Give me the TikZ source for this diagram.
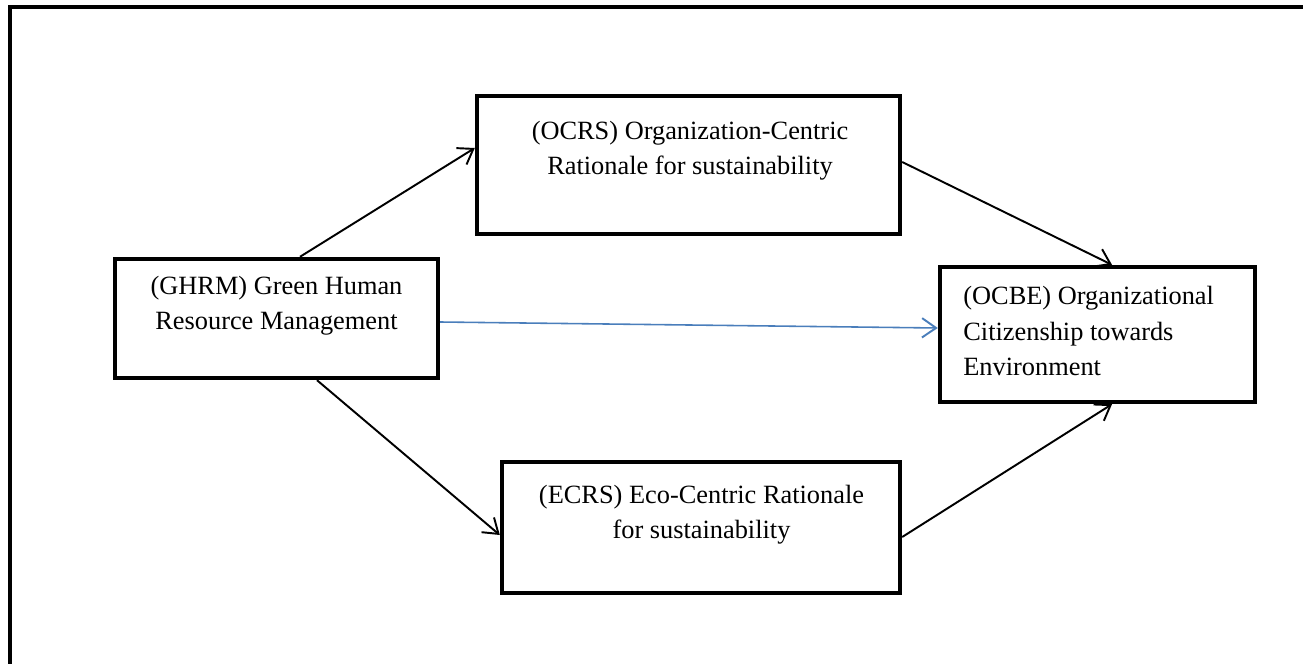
\documentclass[tikz,border=0pt]{standalone}
\usepackage{fontspec}
\setmainfont{Liberation Serif}
\usepackage{tikz}
\usetikzlibrary{arrows.meta}
\definecolor{linkblue}{RGB}{74,126,187}
\tikzstyle{block} = [rectangle, draw, line width=2.5pt, inner sep=0pt]
\tikzstyle{caption} = [align=center, inner sep=0pt, font=\fontsize{15}{20}\selectfont]
\tikzstyle{link} = [line width=1.1pt, -{Straight Barb[length=8pt, width=11pt, line width=1.1pt]}]

\begin{document}
\begin{tikzpicture}
        \useasboundingbox (0, 0) rectangle (26.06, -13.28);
        \draw[line width=2.3pt] (0.2, -13.28) |- (26.06, -0.14);

        \node[block, minimum width=6.46cm, minimum height=2.38cm] at (5.53, -6.37) (GHRM) {};
        \node[caption] at (5.53, -6.11) (GHRMtext) {(GHRM) Green Human\\Resource Management};

        \node[block, minimum width=8.46cm, minimum height=2.76cm] at (13.77, -3.3) (OCRS) {};
        \node[caption] at (13.8, -3.01) (OCRStext) {(OCRS) Organization-Centric\\Rationale for sustainability};

        \node[block, minimum width=7.96cm, minimum height=2.62cm] at (14.02, -10.55) (ECRS) {};
        \node[caption] at (14.03, -10.29) (ECRStext) {(ECRS) Eco-Centric Rationale\\for sustainability};

        \node[block, minimum width=6.3cm, minimum height=2.7cm] at (21.95, -6.69) (OCBE) {};
        \node[caption, align=left, anchor=west] at (19.26, -6.62) (OCBEtext) {(OCBE) Organizational\\Citizenship towards\\Environment};

        \draw[link] ([xshift=0.47cm]GHRM.north) -- ([yshift=0.34cm]OCRS.west);
        \draw[link] ([xshift=0.81cm]GHRM.south) -- ([yshift=-0.15cm]ECRS.west);
        \draw[link] ([yshift=0.06cm]OCRS.east) -- ([xshift=0.29cm]OCBE.north);
        \draw[link] ([yshift=-0.19cm]ECRS.east) -- ([xshift=0.29cm]OCBE.south);
        \draw[link, color=linkblue, line width=0.9pt] ([yshift=-0.07cm]GHRM.east) -- ([yshift=0.13cm]OCBE.west);

    \end{tikzpicture}
\end{document}
